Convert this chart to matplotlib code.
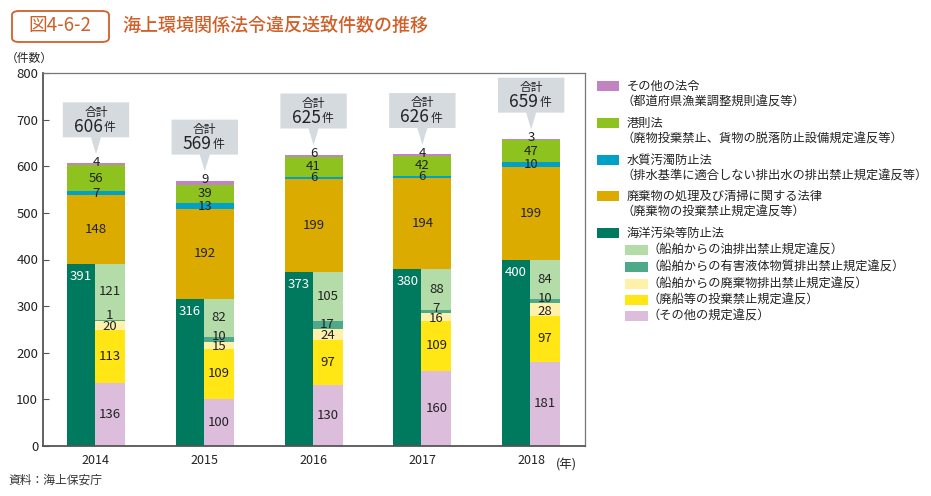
import matplotlib
matplotlib.use('agg')
import matplotlib.pyplot as plt
from matplotlib.patches import Polygon, Rectangle, FancyBboxPatch
import numpy as np

plt.rcParams['font.family'] = ['Noto Sans CJK JP', 'DejaVu Sans']

years = ['2014', '2015', '2016', '2017', '2018']

# 海洋汚染等防止法 (total) and its breakdown
marine_total = [391, 316, 373, 380, 400]
other_rules = [136, 100, 130, 160, 181]      # その他の規定違反
abandoned_ship = [113, 109, 97, 109, 97]     # 廃船等の投棄禁止規定違反
ship_waste = [20, 15, 24, 16, 28]            # 船舶からの廃棄物排出禁止規定違反
noxious_liquid = [1, 10, 17, 7, 10]          # 船舶からの有害液体物質排出禁止規定違反
oil = [121, 82, 105, 88, 84]                 # 船舶からの油排出禁止規定違反

# upper stack
waste_law = [148, 192, 199, 194, 199]        # 廃棄物の処理及び清掃に関する法律
water_law = [7, 13, 6, 6, 10]                # 水質汚濁防止法
port_law = [56, 39, 41, 42, 47]              # 港則法
other_law = [4, 9, 6, 4, 3]                  # その他の法令

totals = [606, 569, 625, 626, 659]

legend_main = [
    ('その他の法令', '（都道府県漁業調整規則違反等）', '#c283c2'),
    ('港則法', '（廃物投棄禁止、貨物の脱落防止設備規定違反等）', '#8ec31f'),
    ('水質汚濁防止法', '（排水基準に適合しない排出水の排出禁止規定違反等）', '#00a1c9'),
    ('廃棄物の処理及び清掃に関する法律', '（廃棄物の投棄禁止規定違反等）', '#dbab00'),
    ('海洋汚染等防止法', None, '#007a5e'),
]
legend_sub = [
    ('（船舶からの油排出禁止規定違反）', '#b3dca9'),
    ('（船舶からの有害液体物質排出禁止規定違反）', '#4ea98b'),
    ('（船舶からの廃棄物排出禁止規定違反）', '#fff0aa'),
    ('（廃船等の投棄禁止規定違反）', '#ffe614'),
    ('（その他の規定違反）', '#dcbedc'),
]

ORANGE = '#d0602a'
TXT = '#222222'

fig = plt.figure(figsize=(9.31, 4.96), dpi=100)
ax = fig.add_axes([43 / 931, 50 / 496, 542 / 931, 373 / 496])

x = np.arange(len(years))
W = 0.533
WL = 0.257
WR = W - WL
left = x - W / 2

# dark green part (left half)
ax.bar(left, marine_total, width=WL, align='edge', color='#007a5e', lw=0)
for xi, v in zip(left, marine_total):
    ax.text(xi + WL / 2, v - 27, str(v), ha='center', va='center',
            color='white', fontsize=9.5)

# breakdown (right half)
sub_series = [other_rules, abandoned_ship, ship_waste, noxious_liquid, oil]
sub_colors = ['#dcbedc', '#ffe614', '#fff0aa', '#4ea98b', '#b3dca9']
bottom = np.zeros(len(years))
for k, (vals, col) in enumerate(zip(sub_series, sub_colors)):
    vals = np.array(vals)
    ax.bar(left + WL, vals, width=WR, bottom=bottom, align='edge',
           color=col, lw=0)
    for i in range(len(years)):
        ypos = bottom[i] + vals[i] / 2
        if k == 2:
            ypos -= 3
        if k == 3:
            ypos = bottom[i] + 10
        ax.text(left[i] + WL + WR / 2, ypos, str(vals[i]), ha='center',
                va='center', color=TXT, fontsize=9.5)
    bottom = bottom + vals

# full-width upper stack
up_series = [waste_law, water_law, port_law, other_law]
up_colors = ['#dbab00', '#00a1c9', '#8ec31f', '#c283c2']
bottom = np.array(marine_total, dtype=float)
for k, (vals, col) in enumerate(zip(up_series, up_colors)):
    vals = np.array(vals)
    ax.bar(x, vals, width=W, bottom=bottom, color=col, lw=0)
    for i in range(len(years)):
        ypos = bottom[i] + vals[i] / 2
        if k == 3:
            ypos = bottom[i] + vals[i] + 2
        ax.text(x[i], ypos, str(vals[i]), ha='center', va='center',
                color=TXT, fontsize=9.5)
    bottom = bottom + vals

# total callouts
bw = 0.61
tw = 0.046
for xi, t in zip(x, totals):
    b0 = t + 56
    b1 = t + 131
    tip = t + 20
    poly = [(xi - bw / 2, b0), (xi - tw, b0), (xi, tip), (xi + tw, b0),
            (xi + bw / 2, b0), (xi + bw / 2, b1), (xi - bw / 2, b1)]
    ax.add_patch(Polygon(poly, closed=True, color='#d5dadf', lw=0,
                         clip_on=False, zorder=3))
    ax.text(xi, t + 110, '合計', ha='center', va='center', fontsize=8.5,
            color=TXT, zorder=4)
    ax.annotate(str(t), xy=(xi, t + 79), xytext=(7, 0),
                textcoords='offset pixels', ha='right', va='center',
                fontsize=12.5, color=TXT, zorder=4)
    ax.annotate('件', xy=(xi, t + 77), xytext=(8, 0),
                textcoords='offset pixels', ha='left', va='center',
                fontsize=8.5, color=TXT, zorder=4)

ax.set_xlim(-0.487, 4.495)
ax.set_ylim(0, 800)
ax.set_yticks(range(0, 801, 100))
ax.tick_params(axis='y', direction='in', length=4, labelsize=9.5,
               colors='#555555', labelcolor=TXT)
ax.set_xticks(x)
ax.set_xticklabels(years, fontsize=9, color=TXT)
ax.tick_params(axis='x', length=0, pad=6)
for s in ['left', 'bottom']:
    ax.spines[s].set_color('#555555')
    ax.spines[s].set_linewidth(1.3)
for s in ['top', 'right']:
    ax.spines[s].set_color('#777777')
    ax.spines[s].set_linewidth(0.9)
ax.text(4.23, -0.05, '(年)', transform=ax.get_xaxis_transform(),
        ha='left', va='center', fontsize=9, color=TXT)

# title block
fig.patches.append(FancyBboxPatch((12 / 931, 1 - 42 / 496), 97 / 931, 31 / 496,
                                  boxstyle='round,pad=0,rounding_size=0.008',
                                  transform=fig.transFigure, fc='white',
                                  ec=ORANGE, lw=1.3))
fig.text(60 / 931, 1 - 26 / 496, '図4-6-2', ha='center', va='center',
         fontsize=13.5, color=ORANGE)
fig.text(122 / 931, 1 - 26 / 496, '海上環境関係法令違反送致件数の推移',
         ha='left', va='center', fontsize=13, color=ORANGE,
         fontweight='medium')
fig.text(6 / 931, 1 - 58 / 496, '（件数）', ha='left', va='center',
         fontsize=8.5, color=TXT)
fig.text(8 / 931, 1 - 480 / 496, '資料：海上保安庁', ha='left', va='center',
         fontsize=8.5, color='#333333')

# legend
main_y = [86, 123, 160, 196, 233]
for (t1, t2, col), yy in zip(legend_main, main_y):
    fig.patches.append(Rectangle((597 / 931, 1 - (yy + 5) / 496), 22 / 931,
                                 10 / 496, transform=fig.transFigure,
                                 fc=col, lw=0))
    fig.text(627 / 931, 1 - yy / 496, t1, ha='left', va='center',
             fontsize=8.8, color=TXT)
    if t2:
        fig.text(621 / 931, 1 - (yy + 16.5) / 496, t2, ha='left',
                 va='center', fontsize=8.8, color=TXT)
sub_y = [250, 267, 284, 300, 316]
for (t1, col), yy in zip(legend_sub, sub_y):
    fig.patches.append(Rectangle((625 / 931, 1 - (yy + 5) / 496), 23 / 931,
                                 10 / 496, transform=fig.transFigure,
                                 fc=col, lw=0))
    fig.text(647 / 931, 1 - yy / 496, t1, ha='left', va='center',
             fontsize=8.8, color=TXT)

fig.savefig('out.png', dpi=100)
